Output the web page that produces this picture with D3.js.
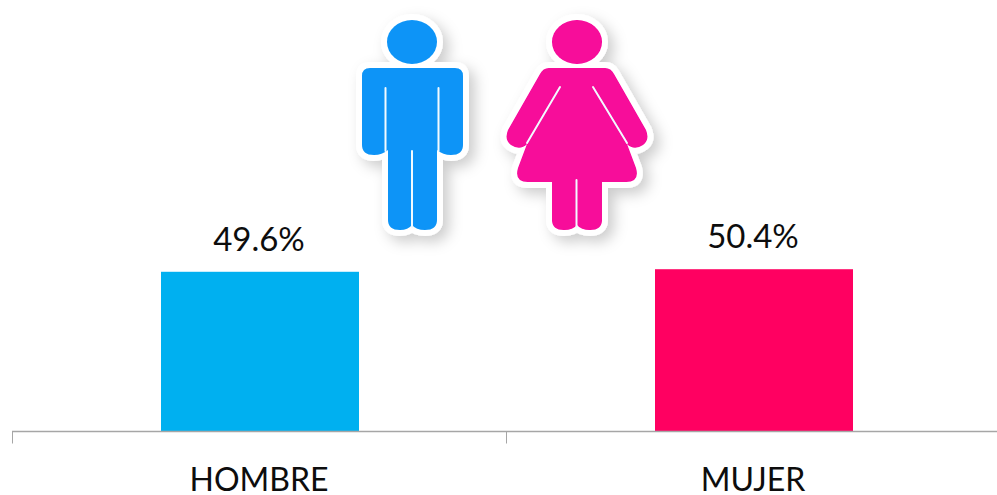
<!DOCTYPE html>
<html>
<head>
<meta charset="utf-8">
<script src="https://cdn.jsdelivr.net/npm/d3@7"></script>
<style>
    html, body { margin: 0; padding: 0; background: #fff; overflow: hidden; }
    text { font-family: Lato, "Open Sans", sans-serif; fill: #0d0d0d; }
</style>
</head>
<body>
<svg id="viz" width="997" height="495"></svg>
<script>
const categories = ['HOMBRE', 'MUJER']
const values = [49.6, 50.4]
const bar_colors = ['#00b0f0', '#ff0061']

// pictograms above the bars, traced by hand
const man_body = 'M370,68H455Q463,68 463,76V145Q463,155 451,155Q443,155 437,150V220Q437,230 425,230Q416,230 412,225Q408,230 400,230Q388,230 388,220V150Q382,155 374,155Q362,155 362,145V76Q362,68 370,68Z'
const man_gaps = 'M385.5,88V151M438.5,88V151M412,151V227'
const woman_body = 'M549,68H605Q611,68 614,74L646,130Q650,140 643,145Q634,151 627,144L636,168Q640,182 626,182H602V220Q602,230 590,230Q581,230 577,225Q573,230 564,230Q552,230 552,220V182H528Q514,182 518,168L527,144Q520,151 511,145Q504,140 508,130L540,74Q543,68 549,68Z'
const woman_gaps = 'M560,87L527,143M593,87L627,143M576.5,180V227'

let svg = d3.select("#viz");

let x = d3.scaleBand()
    .domain(categories)
    .range([12, 1000])
    .paddingInner(0)
    .paddingOuter(0);

let y = d3.scaleLinear()
    .domain([0, 100])
    .range([431, 110]);

let bar_w = 198;

let defs = svg.append("defs");

// soft shadow for the stickers
let shadow = defs.append("filter")
    .attr("id", "sticker_shadow")
    .attr("x", "-30%").attr("y", "-30%")
    .attr("width", "170%").attr("height", "170%");
shadow.append("feDropShadow")
    .attr("dx", 6).attr("dy", 6)
    .attr("stdDeviation", 7)
    .attr("flood-color", "#000")
    .attr("flood-opacity", 0.2);

// the source pictogram is a low res image, a small blur brings that back
defs.append("filter")
    .attr("id", "soft")
    .append("feGaussianBlur")
    .attr("stdDeviation", 0.5);

function draw_sticker(head_x, body, gaps, color) {
    let g = svg.append("g").attr("filter", "url(#sticker_shadow)");
    g.append("ellipse")
        .attr("cx", head_x).attr("cy", 42).attr("rx", 25).attr("ry", 22)
        .attr("fill", "#fff").attr("stroke", "#fff").attr("stroke-width", 12);
    g.append("path")
        .attr("d", body)
        .attr("fill", "#fff").attr("stroke", "#fff")
        .attr("stroke-width", 12).attr("stroke-linejoin", "round");
    let top = svg.append("g").attr("filter", "url(#soft)");
    top.append("ellipse")
        .attr("cx", head_x).attr("cy", 42).attr("rx", 25).attr("ry", 22)
        .attr("fill", color);
    top.append("path").attr("d", body).attr("fill", color);
    top.append("path")
        .attr("d", gaps)
        .attr("fill", "none").attr("stroke", "#f2faff")
        .attr("stroke-width", 2).attr("stroke-linecap", "round");
}

draw_sticker(412, man_body, man_gaps, "#0c94f7");
draw_sticker(577, woman_body, woman_gaps, "#f7079a");

// bars
svg.selectAll(".bar")
    .data(categories)
    .join("rect")
    .classed("bar", true)
    .attr("x", d => x(d) + (x.bandwidth() - bar_w) / 2 + 1)
    .attr("y", (d, i) => y(values[i]))
    .attr("width", bar_w)
    .attr("height", (d, i) => y(0) - y(values[i]))
    .attr("fill", (d, i) => bar_colors[i]);

// value labels
svg.selectAll(".bar_label")
    .data(categories)
    .join("text")
    .classed("bar_label", true)
    .attr("x", d => x(d) + x.bandwidth() / 2)
    .attr("y", (d, i) => y(values[i]) - 21)
    .attr("text-anchor", "middle")
    .attr("font-size", 33)
    .text((d, i) => values[i].toFixed(1) + "%");

// category axis, ticks sit on the band edges
let axis = svg.append("g").attr("transform", "translate(0,431.5)");
axis.append("line")
    .attr("x1", x.range()[0]).attr("x2", x.range()[1])
    .attr("stroke", "#a6a6a6")
    .attr("stroke-width", 1.4);
axis.selectAll(".tick_mark")
    .data(categories)
    .join("line")
    .classed("tick_mark", true)
    .attr("x1", d => Math.round(x(d)) + 0.5)
    .attr("x2", d => Math.round(x(d)) + 0.5)
    .attr("y1", 0).attr("y2", 12)
    .attr("stroke", "#a6a6a6");
axis.selectAll(".tick_label")
    .data(categories)
    .join("text")
    .classed("tick_label", true)
    .attr("x", d => x(d) + x.bandwidth() / 2)
    .attr("y", 59.5)
    .attr("text-anchor", "middle")
    .attr("font-size", 32)
    .text(d => d);
</script>
</body>
</html>
